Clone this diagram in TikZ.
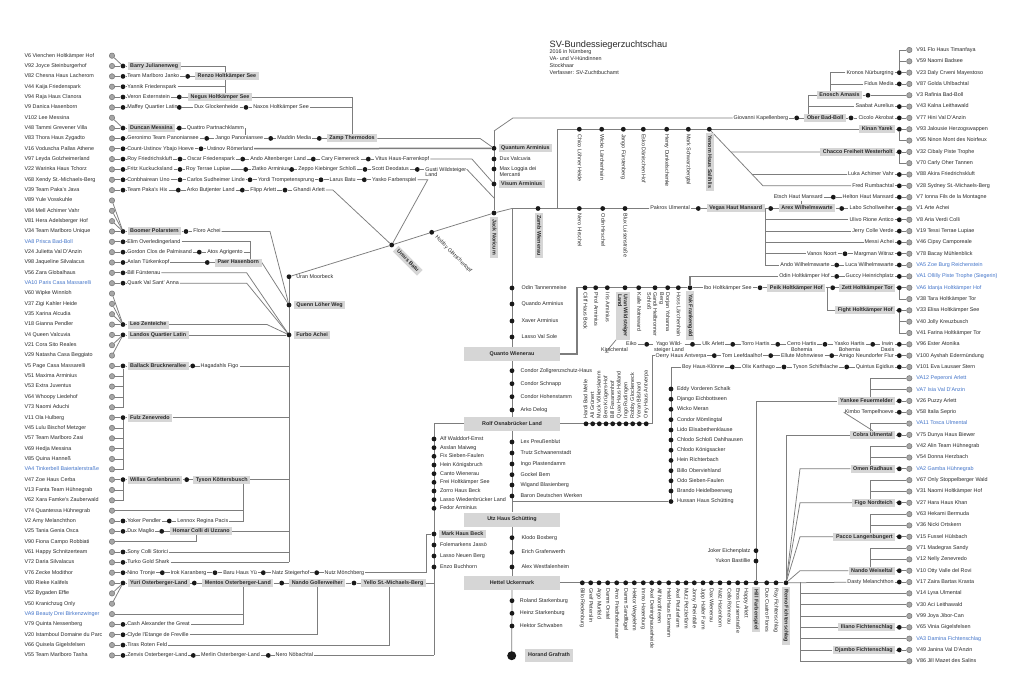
\documentclass[tikz,border=0pt]{standalone}
\usepackage{fontspec}
\setmainfont{Liberation Sans}
\usetikzlibrary{calc}
\pgfdeclarelayer{bgw}
\pgfdeclarelayer{bg}
\pgfsetlayers{bgw,bg,main}
\definecolor{boxgray}{RGB}{214,214,214}
\definecolor{linegray}{RGB}{125,125,125}
\definecolor{vblue}{RGB}{66,116,201}
\definecolor{txt}{RGB}{40,40,40}
\newcommand\mkD[3]{\node[bd] (#1) at (#2,{#3}) {};}
\newcommand\mkTW[4]{\node[lbl,anchor=west] (#1) at (#2,{#3}) {#4};}
\newcommand\mkTE[4]{\node[lbl,anchor=east] (#1) at (#2,{#3}) {#4};}
\newcommand\mkBW[4]{\node[bx,anchor=west] (#1) at (#2,{#3}) {#4};}
\newcommand\mkBE[4]{\node[bx,anchor=east] (#1) at (#2,{#3}) {#4};}
\newcommand\bluet[1]{\textcolor{vblue}{#1}}
\tikzset{
 lbl/.style={font=\fontsize{5.4}{5.9}\selectfont, inner sep=0.9pt, text=txt, text height=3.7pt, text depth=0.9pt},
 ml/.style={font=\fontsize{5.4}{5.9}\selectfont, inner sep=0.9pt, text=txt},
 bx/.style={lbl, font=\fontsize{5.4}{5.9}\selectfont\bfseries, fill=boxgray, inner xsep=2.6pt, inner ysep=1.7pt},
 mbx/.style={ml, font=\fontsize{5.4}{5.9}\selectfont\bfseries, fill=boxgray, inner xsep=2.6pt, inner ysep=1.7pt, align=left},
 bigbx/.style={bx, minimum width=96pt, minimum height=14pt},
 gc/.style={circle, fill=black!35, draw=black!55, line width=0.5pt, inner sep=0pt, minimum size=5.4pt},
 bd/.style={circle, fill=black!90, inner sep=0pt, minimum size=4.8pt},
 thk/.style={line width=1.5pt},
}
\begin{document}
\begin{tikzpicture}[x=1pt,y=-1pt,declare function={ly(\n)=55.7+10.34*\n; ry(\n)=50+11.32*\n;}]
\begin{pgfonlayer}{bgw}
\fill[white] (0,0) rectangle (1024,687);
\end{pgfonlayer}
\useasboundingbox (0,0) rectangle (1024,687);
% ---------- title
\node[anchor=west,font=\fontsize{9.2}{11}\selectfont,inner sep=0pt,text=txt] (title) at (549.5,45) {SV-Bundessiegerzuchtschau};
\node[anchor=north west,align=left,font=\fontsize{5.4}{6.9}\selectfont,inner sep=0pt,text=txt] (sub) at (549.5,49.3) {2016 in Nürnberg\\VA- und V-Hündinnen\\Stockhaar\\Verfasser: SV-Zuchtbuchamt};
% ---------- left column
\foreach \i in {0,...,58}{\node[gc] (lc\i) at (112,{ly(\i)}) {};}
\foreach \i/\t in {0/V6 Vienchen Holtkämper Hof,1/V92 Joyce Steinburgerhof,2/V82 Chesna Haus Lacherom,3/V44 Kaija Friedenspark,4/V94 Raja Haus Clanora,5/V9 Danica Hasenborn,6/V102 Lee Messina,7/V48 Tammi Grevener Villa,8/V83 Thora Haus Zygadto,9/V16 Voduscha Pallas Athene,10/V97 Leyda Golzheimerland,11/V22 Warinka Haus Tchorz,12/V68 Xendy St.-Michaels-Berg,13/V39 Team Paka's Java,14/V89 Yule Vosskuhle,15/V84 Mell Achimer Vahr,16/V81 Hera Adelsberger Hof,17/V34 Team Marlboro Unique,18/\bluet{VA8 Prisca Bad-Boll},19/V24 Julietta Val D'Anzin,20/V98 Jaqueline Silvalacus,21/V56 Zara Globalhaus,22/\bluet{VA10 Paris Casa Massarelli},23/V60 Wipke Winnloh,24/V37 Zigi Kahler Heide,25/V35 Xarina Alcudia,26/V18 Gianna Pendler,27/V4 Queen Valcuvia,28/V21 Cora Sito Reales,29/V29 Natasha Casa Beggiato,30/V5 Page Casa Massarelli,31/V51 Maxima Arminius,32/V53 Extra Juventus,33/V64 Whoopy Liedehof,34/V73 Naomi Aduchi,35/V11 Ola Hulberg,36/V45 Lulu Bischof Metzger,37/V57 Team Marlboro Zasi,38/V69 Hedja Messina,39/V85 Quina Hanneß,40/\bluet{VA4 Tinkerbell Baiertalerstraße},41/V47 Zoe Haus Cerba,42/V13 Fanta Team Hühnegrab,43/V62 Xara Famke's Zauberwald,44/V74 Quantessa Hühnegrab,45/V2 Amy Melanchthon,46/V25 Tania Genia Osca,47/V90 Fiona Campo Robbiati,48/V61 Happy Schnitzerteam,49/V72 Daria Silvalacus,50/V76 Zecke Modithor,51/V80 Rieke Kalifels,52/V52 Bygaden Effie,53/V50 Kranichzug Only,54/\bluet{VA9 Beauty Drei Birkenzwinger},55/V79 Quinta Nessenberg,56/V20 Istamboul Domaine du Parc,57/V66 Quisela Gigelsfelsen,58/V55 Team Marlboro Tasha}{\node[lbl,anchor=west] (ln\i) at (23.5,{ly(\i)}) {\t};}
\foreach \i in {1,2,3,4,5,7,8,9,10,11,12,13,17,18,19,20,21,22,26,27,30,35,41,45,46,48,49,50,51,55,56,57,58}{\node[bd] (ld\i) at (123,{ly(\i)}) {};}
% rows
\mkBW{barry}{127.3}{ly(1)}{Barry Julianenweg}
\mkTW{janko}{126.2}{ly(2)}{Team Marlboro Janko}\mkD{d2a}{187.7}{ly(2)}\mkBW{renzo}{194.8}{ly(2)}{Renzo Holtkämper See}
\mkTW{yannik}{126.2}{ly(3)}{Yannik Friedenspark}
\mkTW{veron}{126.2}{ly(4)}{Veron Externstein}\mkD{d4a}{179.3}{ly(4)}\mkBW{negus}{187.8}{ly(4)}{Negus Holtkämper See}
\mkTW{maffey}{126.2}{ly(5)}{Maffey Quartier Latin}\mkD{d5a}{179.3}{ly(5)}\mkTW{duxg}{193.2}{ly(5)}{Dux Glockenheide}\mkD{d5b}{246}{ly(5)}\mkTW{naxos}{252.2}{ly(5)}{Naxos Holtkämper See}
\mkBW{duncan}{127.3}{ly(7)}{Duncan Messina}\mkD{d7a}{179.3}{ly(7)}\mkTW{quattro}{185.8}{ly(7)}{Quattro Partnachklamm}
\mkTW{geronimo}{126.2}{ly(8)}{Geronimo Team Panoniansee}\mkD{d8a}{206.7}{ly(8)}\mkTW{jango}{214.2}{ly(8)}{Jango Panoniansee}\mkD{d8b}{270.7}{ly(8)}\mkTW{maddin}{276.2}{ly(8)}{Maddin Media}\mkD{d8c}{319.3}{ly(8)}\mkBW{zamp}{326.5}{ly(8)}{Zamp Thermodos}
\mkTW{count}{126.2}{ly(9)}{Count-Ustinov Ybajo Hoeve}\mkD{d9a}{201}{ly(9)}\mkTW{ustinov}{206}{ly(9)}{Ustinov Römerland}
\mkTW{royf}{126.2}{ly(10)}{Roy Friedrichskluft}\mkD{d10a}{180}{ly(10)}\mkTW{oscar}{186.2}{ly(10)}{Oscar Friedenspark}\mkD{d10b}{242.7}{ly(10)}\mkTW{andoa}{249.2}{ly(10)}{Ando Altenberger Land}\mkD{d10c}{313.3}{ly(10)}\mkTW{cary}{320.2}{ly(10)}{Cary Fiemereck}\mkD{d10d}{368.3}{ly(10)}\mkTW{vitus}{374.2}{ly(10)}{Vitus Haus-Farrenkopf}
\mkTW{fritz}{126.2}{ly(11)}{Fritz Kuckucksland}\mkD{d11a}{180}{ly(11)}\mkTW{royt}{184.8}{ly(11)}{Roy Terrae Lupiae}\mkD{d11b}{245.7}{ly(11)}\mkTW{zlatko}{250.8}{ly(11)}{Zlatko Arminius}\mkD{d11c}{291.7}{ly(11)}\mkTW{zeppo}{297.2}{ly(11)}{Zeppo Kiebinger Schloß}\mkD{d11d}{365}{ly(11)}\mkTW{scott}{370.8}{ly(11)}{Scott Deodatus}\mkD{d11e}{417.3}{ly(11)}
\node[ml,align=left,anchor=north west] (gusti) at (424.2,{ly(11)-3.4}) {Gusti Wildsteiger\\Land};
\mkTW{conb}{126.2}{ly(12)}{Conbhairean Uno}\mkD{d12a}{180}{ly(12)}\mkTW{carlos}{185.8}{ly(12)}{Carlos Sudheimer Linde}\mkD{d12b}{250}{ly(12)}\mkTW{yordi}{257}{ly(12)}{Yordi Trompetensprung}\mkD{d12c}{321}{ly(12)}\mkTW{larus}{328.5}{ly(12)}{Larus Batu}\mkD{d12d}{364.3}{ly(12)}\mkTW{yasko}{371}{ly(12)}{Yasko Farbenspiel}
\mkTW{pakah}{126.2}{ly(13)}{Team Paka's Hix}\mkD{d13a}{178.3}{ly(13)}\mkTW{arko}{185.8}{ly(13)}{Arko Butjenter Land}\mkD{d13b}{242.3}{ly(13)}\mkTW{flipp}{249.2}{ly(13)}{Flipp Arlett}\mkD{d13c}{285}{ly(13)}\mkTW{ghandi}{292.2}{ly(13)}{Ghandi Arlett}
\mkBW{boomer}{127.3}{ly(17)}{Boomer Polarstern}\mkD{d17a}{186}{ly(17)}\mkTW{floro}{192.2}{ly(17)}{Floro Achei}
\mkTW{elim}{126.2}{ly(18)}{Elim Overledingerland}
\mkTW{gordon}{126.2}{ly(19)}{Gordon Clos de Palmisand}\mkD{d19a}{199.3}{ly(19)}\mkTW{atos}{206.2}{ly(19)}{Atos Agrigento}
\mkTW{aslan}{126.2}{ly(20)}{Aslan Türkenkopf}\mkD{d20a}{207.3}{ly(20)}\mkBW{paer}{214.8}{ly(20)}{Paer Hasenborn}
\mkTW{bill}{126.2}{ly(21)}{Bill Fürstenau}
\mkTW{quark}{126.2}{ly(22)}{Quark Val Sant' Anna}
\mkBW{leo}{127.3}{ly(26)}{Leo Zenteiche}
\mkBW{landos}{127.3}{ly(27)}{Landos Quartier Latin}
\mkBW{ballack}{127.3}{ly(30)}{Ballack Brucknerallee}\mkD{d30a}{192.7}{ly(30)}\mkTW{hagad}{199.5}{ly(30)}{Hagadahls Figo}
\mkBW{fulz}{127.3}{ly(35)}{Fulz Zenevredo}
\mkBW{willas}{127.3}{ly(41)}{Willas Grafenbrunn}\mkD{d41a}{186.7}{ly(41)}\mkBW{tyson}{193}{ly(41)}{Tyson Köttersbusch}
\mkTW{yoker}{126.2}{ly(45)}{Yoker Pendler}\mkD{d45a}{169.3}{ly(45)}\mkTW{lennox}{176.2}{ly(45)}{Lennox Regina Pacis}
\mkTW{duxm}{126.2}{ly(46)}{Dux Maglio}\mkD{d46a}{161.7}{ly(46)}\mkBW{homar}{169.8}{ly(46)}{Homar Colli di Uzzano}
\mkTW{sony}{126.2}{ly(48)}{Sony Colli Storici}
\mkTW{turko}{126.2}{ly(49)}{Turko Gold Shark}
\mkTW{nino}{126.2}{ly(50)}{Nino Tronje}\mkD{d50a}{162.3}{ly(50)}\mkTW{irok}{169.5}{ly(50)}{Irok Karanberg}\mkD{d50b}{215}{ly(50)}\mkTW{baru}{222.2}{ly(50)}{Baru Haus Yü}\mkD{d50c}{263.3}{ly(50)}\mkTW{natz}{271}{ly(50)}{Natz Steigerhof}\mkD{d50d}{316.7}{ly(50)}\mkTW{nutz}{323.5}{ly(50)}{Nutz Mönchberg}
\mkBW{yuri}{127.3}{ly(51)}{Yuri Osterberger-Land}\mkD{d51a}{194.3}{ly(51)}\mkBW{mentos}{202}{ly(51)}{Mentos Osterberger-Land}\mkD{d51b}{281.7}{ly(51)}\mkBW{nandog}{289}{ly(51)}{Nando Gollerweiher}\mkD{d51c}{354}{ly(51)}\mkBW{yello}{360.8}{ly(51)}{Yello St.-Michaels-Berg}
\mkTW{cash}{126.2}{ly(55)}{Cash Alexander the Great}
\mkTW{clyde}{126.2}{ly(56)}{Clyde l'Etange de Freville}
\mkTW{tiras}{126.2}{ly(57)}{Tiras Roten Feld}
\mkTW{zenvis}{126.2}{ly(58)}{Zenvis Osterberger-Land}\mkD{d58a}{193.3}{ly(58)}\mkTW{merlin}{200}{ly(58)}{Merlin Osterberger-Land}\mkD{d58b}{268.3}{ly(58)}\mkTW{nero}{274.5}{ly(58)}{Nero Nöbachtal}
% ---------- centre left
\mkD{uranmd}{289}{276.7}\mkTW{uranm}{295.2}{276.7}{Uran Moorbeck}
\mkD{quennd}{289}{305}\mkBW{quenn}{293.5}{305}{Quenn Löher Weg}
\mkD{furbod}{289}{ly(27)}\mkBW{furbo}{293.5}{ly(27)}{Furbo Achei}
\mkD{ursusd}{391.7}{245}\node[bx,rotate=-45,anchor=west] (ursus) at (395.6,248.6) {Ursus Batu};
\mkD{hobbyd}{431.7}{232.3}\node[lbl,rotate=-45,anchor=west] (hobby) at (435.4,236.2) {Hobby Glatschertopf};
\mkD{jackd}{494}{213}\node[bx,rotate=-90,anchor=west] (jack) at (494,216.8) {Jack Noricum};
\mkD{quantd}{494}{148.3}\mkBW{quant}{498.3}{148.3}{Quantum Arminius}
\mkD{duxvd}{494}{159}\mkTW{duxv}{498.5}{159}{Dux Valcuvia}
\mkD{maxd}{494}{169}\node[ml,align=left,anchor=north west] (maxl) at (498.5,165.6) {Max Loggia dei\\Mercanti};
\mkD{visumd}{494}{184}\mkBW{visum}{498.3}{184}{Visum Arminius}
\coordinate (jt) at (494,131);\coordinate (jt2) at (513,{ry(6)});
\coordinate (jr1) at (512,{ry(14)});
\coordinate (tl1) at (557,{ry(7)});\coordinate (tl2) at (557,{ry(14)});
\mkD{zambd}{538}{ry(14)}\node[bx,rotate=-90,anchor=west] (zamb) at (538.8,{ry(14)+4.2}) {Zamb Wienerau};
\foreach \k/\x/\t in {1/579.3/Nero Hirschel,2/602.7/Odin Hirschel,3/625/Blux Luisenstraße}{\node[bd] (jrd\k) at (\x,{ry(14)}) {};\node[lbl,rotate=-90,anchor=west] (jrl\k) at (\x,{ry(14)+4.3}) {\t};}
\foreach \k/\x/\t in {1/579.3/Chico Löhner Heide,2/601.7/Wicko Lärchenhain,3/623.3/Jango Fürstenberg,4/643.3/Esko Dänischen Hof,5/666.7/Henry Dunkelschenke,6/688.3/Mark Schwarzbergtal}{\node[bd] (kd\k) at (\x,{ry(7)}) {};\node[lbl,rotate=-90,anchor=west] (kl\k) at (\x,{ry(7)+3.8}) {\t};}
\mkD{yenomd}{709.3}{ry(7)}\node[bx,rotate=-90,anchor=west] (yenom) at (709.6,{ry(7)+3.3}) {Yenom Haus Salihlis};
% x=512 column
\foreach \k/\y/\t in {1/288/Odin Tannenmeise,2/304/Quando Arminius,3/321/Xaver Arminius,4/337/Lasso Val Sole}{\node[bd] (qa\k) at (512,\y) {};\node[lbl,anchor=west] (qal\k) at (520.5,\y) {\t};}
\node[bigbx] (quanto) at (512,354) {Quanto Wienerau};
\foreach \k/\y/\t in {1/370.7/Condor Zollgrenzschutz-Haus,2/383.7/Condor Schnapp,3/396.7/Condor Hohenstamm,4/410/Arko Delog}{\node[bd] (qb\k) at (512,\y) {};\node[lbl,anchor=west] (qbl\k) at (519.5,\y) {\t};}
\node[bigbx] (rolf) at (512,423.8) {Rolf Osnabrücker Land};
\foreach \k/\y/\t in {1/442/Lex Preußenblut,2/453/Trutz Schwanenstadt,3/464/Ingo Plastendamm,4/474.7/Gockel Bem,5/485/Wigand Blasienberg,6/496/Baron Deutschen Werken}{\node[bd] (qc\k) at (512,\y) {};\node[lbl,anchor=west] (qcl\k) at (519.5,\y) {\t};}
\node[bigbx] (utz) at (512,519.5) {Utz Haus Schütting};
\foreach \k/\y/\t in {1/537.7/Klodo Boxberg,2/552.3/Erich Grafenwerth,3/567/Alex Westfalenheim}{\node[bd] (qd\k) at (512,\y) {};\node[lbl,anchor=west] (qdl\k) at (520.5,\y) {\t};}
\node[bigbx] (hettel) at (512,582.8) {Hettel Uckermark};
\foreach \k/\y/\t in {1/600.7/Roland Starkenburg,2/613.3/Heinz Starkenburg,3/626/Hektor Schwaben}{\node[bd] (qe\k) at (512,\y) {};\node[lbl,anchor=west] (qel\k) at (518.8,\y) {\t};}
\node[circle,fill=black!90,inner sep=0pt,minimum size=9pt] (horandd) at (511.7,655.7) {};
\node[bx,minimum width=48pt,minimum height=13pt] (horand) at (549,655.5) {Horand Grafrath};
% x=434 column
\coordinate (c434t) at (434,423.8);\coordinate (c434b) at (434,{ly(58)});
\foreach \k/\y/\t in {1/439/Alf Walddorf-Emst,2/447.7/Asslan Maiweg,3/456.3/Fix Sieben-Faulen,4/465/Hein Königsbruch,5/473.7/Canto Wienerau,6/482.3/Frei Holtkämper See,7/491/Zorro Haus Beck,8/499.7/Lasso Wiedenbrücker Land,9/508.3/Fedor Arminius,11/545/Folemarkens Jassö,12/556/Lasso Neuen Berg,13/567/Enzo Buchhorn}{\node[bd] (pa\k) at (434,\y) {};\node[lbl,anchor=west] (pal\k) at (439,\y) {\t};}
\mkD{markd}{434}{534}\mkBW{mark}{438.8}{534}{Mark Haus Beck}
% Cliff row
\coordinate (cq1) at (577,354);\coordinate (cq2) at (577,{ry(21)});
\foreach \k/\x/\t in {1/585/Cliff Haus Beck,2/595.7/Pirol Arminius,3/607.3/Iris Arminius,5/638.7/Kalle Notreward,8/678.3/Hoss Lärchenhain}{\node[bd] (cd\k) at (\x,{ry(21)}) {};\node[lbl,rotate=-90,anchor=west] (cl\k) at (\x,{ry(21)+4}) {\t};}
\mkD{cd4}{625}{ry(21)}\node[mbx,rotate=-90,anchor=north west] (uranw) at (629.8,{ry(21)+3.6}) {Uran Wildsteiger\\Land};
\mkD{cd6}{655}{ry(21)}\node[ml,align=left,rotate=-90,anchor=north west] (cl6) at (658.4,{ry(21)+3.8}) {Gandi Heilbronner\\Schloß};
\mkD{cd7}{667.7}{ry(21)}\node[ml,align=left,rotate=-90,anchor=north west] (cl7) at (671.1,{ry(21)+3.8}) {Dorjan Yohanna\\Berg};
\mkD{yakd}{690}{ry(21)}\node[bx,rotate=-90,anchor=west] (yak) at (690.3,{ry(21)+3.5}) {Yak Frankengold};
% Rolf row
\coordinate (rolfE) at (652.5,423.8);
\foreach \k/\x/\t in {1/586/Hardi Bad Melle,2/592.7/Ali Grünert,3/599.3/Muck Völkerskamm,4/606/Bero Krügers-Hof,5/612.7/Bill Fasanenhof,6/619.3/Quax Haus Holland,7/626/Ingo Rudingen,8/632.7/Robby Glockeneck,9/639.3/Veran Bilshard,10/646.2/Orry Haus Antverpa}{\node[bd] (od\k) at (\x,423.8) {};\node[lbl,rotate=90,anchor=west] (ol\k) at (\x,419.2) {\t};}
% x=671 column
\foreach \k/\y/\t in {1/389/Eddy Vorderen Schalk,2/399.2/Django Eichbottseen,3/409.3/Wicko Meran,4/419.7/Condor Mömlingtal,5/430/Lido Elisabethenklause,6/440/Chlodo Schloß Dahlhausen,7/450.2/Chlodo Königsacker,8/460.4/Hein Richterbach,9/470.7/Billo Oberviehland,10/480.8/Odo Sieben-Faulen,11/491/Brando Heidelbeerweg,12/501.5/Hussan Haus Schütting}{\node[bd] (hu\k) at (671,\y) {};\node[lbl,anchor=west] (hul\k) at (676,\y) {\t};}
\coordinate (h512) at (512,501.5);
% Hettel row
\foreach \k/\x/\t in {1/582.3/Billo Riedenburg,2/590.7/Greif Peterslin,3/599/Argo Murfeld,4/607.7/Damm Orstel,5/616.7/Arno Friedhofsmauer,6/625.7/Damm Sandflügel,7/634.3/Hektor Wegelehm,8/643.3/Immo Hasenburg,9/651.7/Axel Deininghauserheide,10/659.3/Alf Nordfriesen,11/668.7/Held Haus Ekemann,12/677.7/Axel Petzlerfarm,13/686/Mutz Petzlerfarm,14/694.3/Jonny Rheinfalle,15/703/Jupp Haller Farm,16/711.3/Dax Wienerau,17/720/Natz Hasenborn,18/729/Cello Römerau,19/737.7/Enos Luisenstraße,20/746/Happy Arlett,22/766.7/Dux Cuatro Flores,23/776/Ray Fichtenschlag}{\node[bd] (hd\k) at (\x,582.8) {};\node[lbl,rotate=-90,anchor=west] (hl\k) at (\x,587) {\t};}
\mkD{hilld}{756}{582.8}\node[bx,rotate=-90,anchor=west] (hill) at (756,586.6) {Hill Farbenspiel};
\mkD{remod}{786}{582.8}\node[bx,rotate=-90,anchor=west] (remo) at (786,586.6) {Remo Fichtenschlag};
\mkD{jokerd}{756}{550.7}\mkTE{joker}{751.5}{550.7}{Joker Eichenplatz}
\mkD{yukond}{756}{561}\mkTE{yukon}{751.5}{561}{Yukon Bastillie}
% ---------- right column
\foreach \j in {0,...,54}{\node[gc] (rc\j) at (909.3,{ry(\j)}) {};}
\foreach \j/\t in {0/V91 Flo Haus Timanfaya,1/V59 Naomi Badsee,2/V23 Daly Crveni Mayestoso,3/V87 Golda Uhlbachtal,4/V3 Rafinia Bad-Boll,5/V43 Kalna Leithawald,6/V77 Hini Val D'Anzin,7/V93 Jalousie Herzogswappen,8/V95 Ninon Mont des Noirfeux,9/V32 Cibaly Piste Trophe,10/V70 Carly Oher Tannen,11/V88 Akira Friedrichskluft,12/V28 Sydney St.-Michaels-Berg,13/V7 Ionna Fils de la Montagne,14/V1 Arte Achei,15/V8 Aria Verdi Colli,16/V19 Tessi Terrae Lupiae,17/V46 Cipsy Camporeale,18/V78 Bacay Mühlenblick,19/\bluet{VA5 Zoe Burg Reichenstein},20/\bluet{VA1 Ollilly Piste Trophe (Siegerin)},21/\bluet{VA6 Idanja Holtkämper Hof},22/V38 Tara Holtkämper Tor,23/V33 Elisa Holtkämper See,24/V40 Jolly Kreuzbusch,25/V41 Farina Holtkämper Tor,26/V96 Ester Atonika,27/V100 Ayshah Edermündung,28/V101 Eva Lausaer Stern,29/\bluet{VA12 Peperoni Arlett},30/\bluet{VA7 Isia Val D'Anzin},31/V26 Puzzy Arlett,32/V58 Italia Seprio,33/\bluet{VA11 Tosca Ulmental},34/V75 Dunya Haus Biewer,35/V42 Alin Team Hühnegrab,36/V54 Donna Herzbach,37/\bluet{VA2 Gamba Hühnegrab},38/V67 Only Stoppelberger Wald,39/V31 Naomi Holtkämper Hof,40/V27 Hara Haus Khan,41/V63 Hekami Bermuda,42/V36 Nicki Ortskern,43/V15 Fussel Hülsbach,44/V71 Madegras Sandy,45/V12 Nelly Zenevredo,46/V10 Otty Valle del Rovi,47/V17 Zaira Bartas Krasta,48/V14 Lysa Ulmental,49/V30 Aci Leithawald,50/V99 Joya Jibor-Can,51/V65 Vinia Gigelsfelsen,52/\bluet{VA3 Damina Fichtenschlag},53/V49 Janina Val D'Anzin,54/V86 Jill Mazet des Salins}{\node[lbl,anchor=west] (rn\j) at (915.3,{ry(\j)}) {\t};}
\foreach \j in {2,3,5,6,7,9,11,12,13,14,15,16,17,18,19,20,21,23,26,27,28,31,32,34,37,40,43,46,47,51,53}{\node[bd] (rd\j) at (899.3,{ry(\j)}) {};}
\mkTE{kronos}{894.8}{ry(2)}{Kronos Nürburgring}
\mkTE{fidus}{894.8}{ry(3)}{Fidus Media}
\mkBE{enosch}{862.5}{ry(4)}{Enosch Amasis}\mkD{rd4}{868}{ry(4)}
\mkTE{saabat}{894.8}{ry(5)}{Saabat Aurelius}
\mkTW{giov}{732.5}{ry(6)}{Giovanni Kapellenberg}\mkD{e6a}{796.7}{ry(6)}\mkBW{ober}{804.2}{ry(6)}{Ober Bad-Boll}\mkD{e6b}{851}{ry(6)}\mkTE{cicolo}{894.8}{ry(6)}{Cicolo Akrobat}
\mkBE{kinan}{895.5}{ry(7)}{Kinan Yarek}
\mkBE{chacco}{895.5}{ry(9)}{Chacco Freiheit Westerholt}
\mkTE{luka}{894.8}{ry(11)}{Luka Achimer Vahr}
\mkTE{fred}{894.8}{ry(12)}{Fred Rumbachtal}
\mkTE{helton}{894.8}{ry(13)}{Helton Haut Mansard}\mkD{e13a}{833.3}{ry(13)}\mkTE{etsch}{823.8}{ry(13)}{Etsch Haut Mansard}
\mkTE{labo}{894.8}{ry(14)}{Labo Schollweiher}\mkD{e14c}{841.7}{ry(14)}\mkBE{arex}{835.5}{ry(14)}{Arex Wilhelmswarte}\mkD{e14b}{770.7}{ry(14)}\mkBW{vegas}{706.5}{ry(14)}{Vegas Haut Mansard}\mkD{e14a}{698.3}{ry(14)}\mkTE{pakros}{691}{ry(14)}{Pakros Ulmental}
\mkTE{ulivo}{894.8}{ry(15)}{Ulivo Rione Antico}
\mkTE{jerry}{894.8}{ry(16)}{Jerry Colle Verde}
\mkTE{messi}{894.8}{ry(17)}{Messi Achei}
\mkTE{margman}{894.8}{ry(18)}{Margman Witraz}\mkD{e18a}{845}{ry(18)}\mkTE{vanos}{837.8}{ry(18)}{Vanos Noort}
\mkTE{lucaw}{894.8}{ry(19)}{Luca Wilhelmswarte}\mkD{e19a}{836.7}{ry(19)}\mkTE{andow}{830.8}{ry(19)}{Ando Wilhelmswarte}
\mkTE{guccy}{894.8}{ry(20)}{Guccy Heinrichplatz}\mkD{e20a}{836.7}{ry(20)}\mkTE{odinh}{830.8}{ry(20)}{Odin Holtkämper Hof}
\mkBE{zett}{895.5}{ry(21)}{Zett Holtkämper Tor}\mkD{e21b}{832.7}{ry(21)}\mkBE{peik}{825.5}{ry(21)}{Peik Holtkämper Hof}\mkD{e21a}{760}{ry(21)}\mkTE{ibo}{752.8}{ry(21)}{Ibo Holtkämper See}
\mkBE{fight}{895.5}{ry(23)}{Fight Holtkämper Hof}
\node[ml,align=center,anchor=north] (irwin) at (887.5,{ry(26)-3.4}) {Irwin\\Daxis};\mkD{e26f}{872.7}{ry(26)}
\node[ml,align=center,anchor=north] (yaskoh) at (849.5,{ry(26)-3.4}) {Yasko Hartis\\Bohemia};\mkD{e26e}{825}{ry(26)}
\node[ml,align=center,anchor=north] (cerro) at (801.7,{ry(26)-3.4}) {Cerro Hartis\\Bohemia};\mkD{e26d}{777.7}{ry(26)}
\mkTW{torro}{740.5}{ry(26)}{Torro Hartis}\mkD{e26c}{732.7}{ry(26)}
\mkTW{ulk}{701.2}{ry(26)}{Ulk Arlett}\mkD{e26b}{692.5}{ry(26)}
\node[ml,align=center,anchor=north] (yago) at (669,{ry(26)-3.4}) {Yago Wild-\\steiger Land};\mkD{e26a}{646.7}{ry(26)}
\mkTE{eiko}{637.8}{ry(26)}{Eiko}
\mkTE{kirsch}{629}{ry(26)+5.9}{Kirschental}
\mkTE{amigo}{894.8}{ry(27)}{Amigo Neundorfer Flur}\mkD{e27c}{831.7}{ry(27)}\mkTW{ellute}{780}{ry(27)}{Ellute Mohnwiese}\mkD{e27b}{770.7}{ry(27)}\mkTW{tom}{721}{ry(27)}{Tom Leefdaalhof}\mkD{e27a}{714.3}{ry(27)}\mkTW{oerry}{654.5}{ry(27)}{Oerry Haus Antverpa}
\mkTE{quintus}{894.8}{ry(28)}{Quintus Egidius}\mkD{e28c}{846.7}{ry(28)}\mkTW{tysons}{792}{ry(28)}{Tyson Schiffslache}\mkD{e28b}{784}{ry(28)}\mkTW{olix}{741}{ry(28)}{Olix Karthago}\mkD{e28a}{732.3}{ry(28)}\mkTW{boy}{681}{ry(28)}{Boy Haus-Klönne}
\mkBE{yankee}{895.5}{ry(31)}{Yankee Feuermelder}
\mkTE{kimbo}{894.8}{ry(32)}{Kimbo Tempelhoeve}
\mkBE{cobra}{895.5}{ry(34)}{Cobra Ulmental}
\mkBE{omen}{895.5}{ry(37)}{Omen Radhaus}
\mkBE{figo}{895.5}{ry(40)}{Figo Nordteich}
\mkBE{pacco}{895.5}{ry(43)}{Pacco Langenbungert}
\mkBE{nandow}{895.5}{ry(46)}{Nando Weiseltal}
\mkTE{dasty}{894.8}{ry(47)}{Dasty Melanchthon}
\mkBE{iliano}{895.5}{ry(51)}{Iliano Fichtenschlag}
\mkBE{djambo}{895.5}{ry(53)}{Djambo Fichtenschlag}
% named helper points
\coordinate (vB) at (225,{ly(4)});\coordinate (vN) at (352,{ly(8)});\coordinate (zq) at (480,{ly(8)});
\coordinate (vq) at (472,{ly(10)});\coordinate (gq) at (467,{ly(11)});\coordinate (gq2) at (494,198);
\coordinate (yq) at (427.7,{ly(12)});\coordinate (gh) at (333,{ly(13)});
\coordinate (fl1) at (270,{ly(17)});\coordinate (vP) at (250,{ly(20)});
\coordinate (bl1) at (246.7,{ly(21)});\coordinate (qk1) at (246.7,{ly(22)});\coordinate (le1) at (267,{ly(26)});
\coordinate (tr289b) at (289,{ly(49)});\coordinate (vT) at (243.3,{ly(41)});\coordinate (vH) at (196.7,{ly(46)});
\coordinate (nz) at (426.7,{ly(50)});\coordinate (vM) at (243.3,{ly(51)});\coordinate (vY) at (389.3,{ly(51)});
\coordinate (vEn) at (830.7,{ry(4)});\coordinate (vOb) at (808.3,{ry(6)});\coordinate (fr1) at (763,{ry(12)});
\coordinate (vg1) at (765,{ry(14)});\coordinate (pk1) at (827.7,{ry(21)});
\coordinate (yk) at (870,{ry(31)});\coordinate (cb) at (870,{ry(34)});\coordinate (om) at (870,{ry(37)});
\coordinate (fg) at (870,{ry(40)});\coordinate (pc) at (870,{ry(43)});\coordinate (nw) at (870,{ry(46)});
\coordinate (x800) at (800,0);
% ---------- connectors
\begin{pgfonlayer}{bg}
\begin{scope}[draw=linegray,line width=0.75pt]
\foreach \i in {1,2,3,4,5,7,8,9,10,11,12,13,17,18,19,20,21,22,26,27,30,35,41,45,46,48,49,50,51,55,56,57,58}{\draw (lc\i) -- (ld\i);}
\foreach \a/\b in {0/1,6/7,14/17,15/17,16/17,23/26,24/26,25/26,28/27,29/27,52/51,53/51}{\draw (lc\a) -- (ld\b);}
\foreach \i in {31,...,34}{\draw (lc\i) -| (ld30);}
\foreach \i in {36,...,40}{\draw (lc\i) -| (ld35);}
\foreach \i in {42,43}{\draw (lc\i) -| (ld41);}
\draw (ld1) -- (barry); \draw (barry.east) -| (vB); \draw (yannik.east) -- (yannik.east -| vB);
\draw (ld2) -- (janko) -- (d2a) -- (renzo); \draw (ld3) -- (yannik);
\draw (ld4) -- (veron) -- (d4a) -- (negus); \draw (negus.east) -| (vN); \draw (naxos.east) -- (naxos.east -| vN);
\draw (ld5) -- (maffey) -- (d5a) -- (duxg) -- (d5b) -- (naxos);
\draw (ld7) -- (duncan) -- (d7a) -- (quattro); \draw (quattro.east) -| ([xshift=6.5pt]jango.north);
\draw (ld8) -- (geronimo) -- (d8a) -- (jango) -- (d8b) -- (maddin) -- (d8c) -- (zamp); \draw (zamp.east) -- (zq) -- (quantd);
\draw (ld9) -- (count) -- (d9a) -- (ustinov); \draw[thk] (ustinov) -- (quantd);
\draw (ld10) -- (royf) -- (d10a) -- (oscar) -- (d10b) -- (andoa) -- (d10c) -- (cary) -- (d10d) -- (vitus); \draw (vitus.east) -- (vq) -- (visumd);
\draw (ld11) -- (fritz) -- (d11a) -- (royt) -- (d11b) -- (zlatko) -- (d11c) -- (zeppo) -- (d11d) -- (scott) -- (d11e) -- (gusti.west |- d11e); \draw (gusti.east |- d11e) -- (gq) -- (gq2);
\draw (ld12) -- (conb) -- (d12a) -- (carlos) -- (d12b) -- (yordi) -- (d12c) -- (larus) -- (d12d) -- (yasko); \draw (yasko.east) -- (yq) -- (ursusd);
\draw (ld13) -- (pakah) -- (d13a) -- (arko) -- (d13b) -- (flipp) -- (d13c) -- (ghandi); \draw (ghandi.east) -- (gh) -- (ursusd);
\draw (uranmd) -- (ursusd) -- (hobbyd) -- (jackd);
\draw (jt) -- (jackd); \draw (giov.west) -- (jt2) -- (jt);
\draw (jackd) -- (jr1) -- (pakros); \draw (jr1) -- (quanto.north);
\draw (kinan.west) -- (tl1) -- (tl2);
\draw (uranmd) -- (tr289b);
\draw (ld17) -- (boomer) -- (d17a) -- (floro); \draw (floro.east) -- (fl1) -- (quennd);
\draw (ld18) -- (elim); \draw (elim.east) -| (vP); \draw (atos.east) -- (atos.east -| vP);
\draw (ld19) -- (gordon) -- (d19a) -- (atos);
\draw (ld20) -- (aslan) -- (d20a) -- (paer); \draw (paer.east) -- (quennd);
\draw (ld21) -- (bill); \draw (bill.east) -- (bl1) -- (furbod);
\draw (ld22) -- (quark); \draw (quark.east) -- (qk1) -- (furbod);
\draw (ld26) -- (leo); \draw (leo.east) -- (le1) -- (furbod);
\draw (ld27) -- (landos) -- (furbod);
\draw (ld30) -- (ballack) -- (d30a) -- (hagad); \draw (hagad.east) -- (hagad.east -| tr289b);
\draw (ld35) -- (fulz); \draw (fulz.east) -- (fulz.east -| tr289b);
\draw (ld41) -- (willas) -- (d41a) -- (tyson); \draw (tyson.east) -- (tyson.east -| tr289b);
\draw (lc44) -- (lc44 -| vT); \draw (lennox.east) -| (vT);
\draw (ld45) -- (yoker) -- (d45a) -- (lennox);
\draw (ld46) -- (duxm) -- (d46a) -- (homar); \draw (homar.east) -- (homar.east -| tr289b);
\draw (lc47) -| (vH);
\draw (ld48) -- (sony); \draw (sony.east) -- (sony.east -| tr289b);
\draw (ld49) -- (turko); \draw (turko.east) -- (tr289b);
\draw (ld50) -- (nino) -- (d50a) -- (irok) -- (d50b) -- (baru) -- (d50c) -- (natz) -- (d50d) -- (nutz); \draw (nutz.east) -- (nz) |- (markd);
\draw (ld51) -- (yuri) -- (d51a) -- (mentos) -- (d51b) -- (nandog) -- (d51c) -- (yello); \draw (yello.east) -- (yello.east -| c434t);
\draw (ld55) -- (cash); \draw (cash.east) -| (vM); \draw (lc54) -- (lc54 -| vM);
\draw (ld56) -- (clyde); \draw (clyde.east) -| (nandog.south);
\draw (ld57) -- (tiras); \draw (tiras.east) -| (vY);
\draw (ld58) -- (zenvis) -- (d58a) -- (merlin) -- (d58b) -- (nero); \draw (nero.east) -- (c434b);
\draw (rolf.west) -- (c434t) -- (c434b);
% centre verticals
\draw (quanto.south) -- (rolf.north); \draw (rolf.south) -- (utz.north); \draw (utz.south) -- (hettel.north); \draw (hettel.south) -- (horandd);
\draw[thk] (quanto.east) -- (cq1) -- (cq2) -- (yakd);
\draw (rolf.east) -- (rolfE) |- (oerry.west);
\draw (h512) -- (hu12); \draw (boy.west) -| (hu12);
\draw (hettel.east) -- (remod);
\draw (uranw.south east) -- ++(-10.5,12.5) -- ++(3,0);
% right side
\foreach \j in {2,3,4,5,6,7,9,11,12,13,14,15,16,17,18,19,20,21,23,26,27,28,31,32,34,37,40,43,46,47,51,53}{\draw (rd\j) -- (rc\j);}
\foreach \a/\j in {kronos/2,fidus/3,enosch/4,saabat/5,kinan/7,chacco/9,luka/11,fred/12,ulivo/15,jerry/16,yankee/31,kimbo/32,cobra/34,omen/37,figo/40,pacco/43,nandow/46,dasty/47,iliano/51,djambo/53}{\draw (\a) -- (rd\j);}
\draw[thk] (messi) -- (rd17);
\draw (rc0) -| (rd2); \draw (rc1) -| (rd2);
\draw (kronos.west) -| (vEn); \draw (fidus.west) -| (vEn);
\draw (enosch.west) -| (vOb); \draw (saabat.west) -| (vOb);
\draw (giov) -- (e6a) -- (ober) -- (e6b) -- (cicolo) -- (rd6);
\draw (rc8) -| (rd7); \draw (rc10) -| (rd9);
\draw (yenomd) -- (fr1) -- (fred.west);
\draw (chacco.west) -- ($(yenomd)!0.4!(fr1)$); \draw (luka.west) -- ($(yenomd)!0.8!(fr1)$);
\draw (etsch) -- (e13a) -- (helton) -- (rd13);
\draw ([xshift=3.5pt]etsch.south) -- ([xshift=3.5pt]etsch.south |- arex.north);
\draw (pakros) -- (e14a) -- (vegas) -- (e14b) -- (arex) -- (e14c) -- (labo) -- (rd14);
\draw (vg1) |- (andow.west); \draw (vg1) |- (ulivo.west); \draw (vg1) |- (jerry.west); \draw (vg1) |- (vanos.west);
\draw[thk] (messi.west) -- (messi.west -| vg1);
\draw (vanos) -- (e18a) -- (margman) -- (rd18);
\draw (andow) -- (e19a) -- (lucaw) -- (rd19);
\draw (odinh) -- (e20a) -- (guccy) -- (rd20); \draw[thk] (odinh.west) -| (yakd);
\draw (yakd) -- (ibo) -- (e21a) -- (peik) -- (e21b) -- (zett) -- (rd21); \draw (rc22) -| (rd21);
\draw (pk1) |- (fight.west); \draw (fight) -- (rd23); \draw (rc24) -| (rd23); \draw (rc25) -| (rd23);
\draw (eiko) -- (e26a) -- (yago.west |- e26a); \draw (yago.east |- e26a) -- (e26b) -- (ulk) -- (e26c) -- (torro) -- (e26d) -- (cerro.west |- e26d);
\draw (cerro.east |- e26d) -- (e26e) -- (yaskoh.west |- e26e); \draw (yaskoh.east |- e26e) -- (e26f) -- (irwin.west |- e26f); \draw (irwin.east |- rd26) -- (rd26);
\draw (oerry) -- (e27a) -- (tom) -- (e27b) -- (ellute) -- (e27c) -- (amigo) -- (rd27);
\draw (boy) -- (e28a) -- (olix) -- (e28b) -- (tysons) -- (e28c) -- (quintus) -- (rd28);
\draw (rc29) -| (yk); \draw (rc30) -| (yk);
\draw (yankee.west) -| (hilld);
\draw (kimbo.west) -- (cobra.north);
\draw (rc33) -| (cb); \draw (cobra.west) -| (remod);
\draw (rc35) -| (om); \draw (rc36) -| (om);
\draw (rc38) -| (fg); \draw (rc39) -| (fg);
\draw (rc41) -| (pc); \draw[thk] (rc42) -- (rc42 -| pc); \draw (rc42) -| (pc);
\draw (rc44) -| (nw); \draw (rc45) -| (nw);
\foreach \a in {omen,figo,pacco,nandow}{\draw (\a.west) -- (\a.west -| x800) -- (remod);}
\draw (remod) -- (dasty);
\draw (dasty.west -| x800) -- (rc54 -| x800);
\foreach \j in {48,49,50,52,54}{\draw (rc\j) -- (rc\j -| x800);}
\draw (iliano.west) -- (iliano.west -| x800); \draw (djambo.west) -- (djambo.west -| x800);
\end{scope}
\end{pgfonlayer}
\end{tikzpicture}
\end{document}
